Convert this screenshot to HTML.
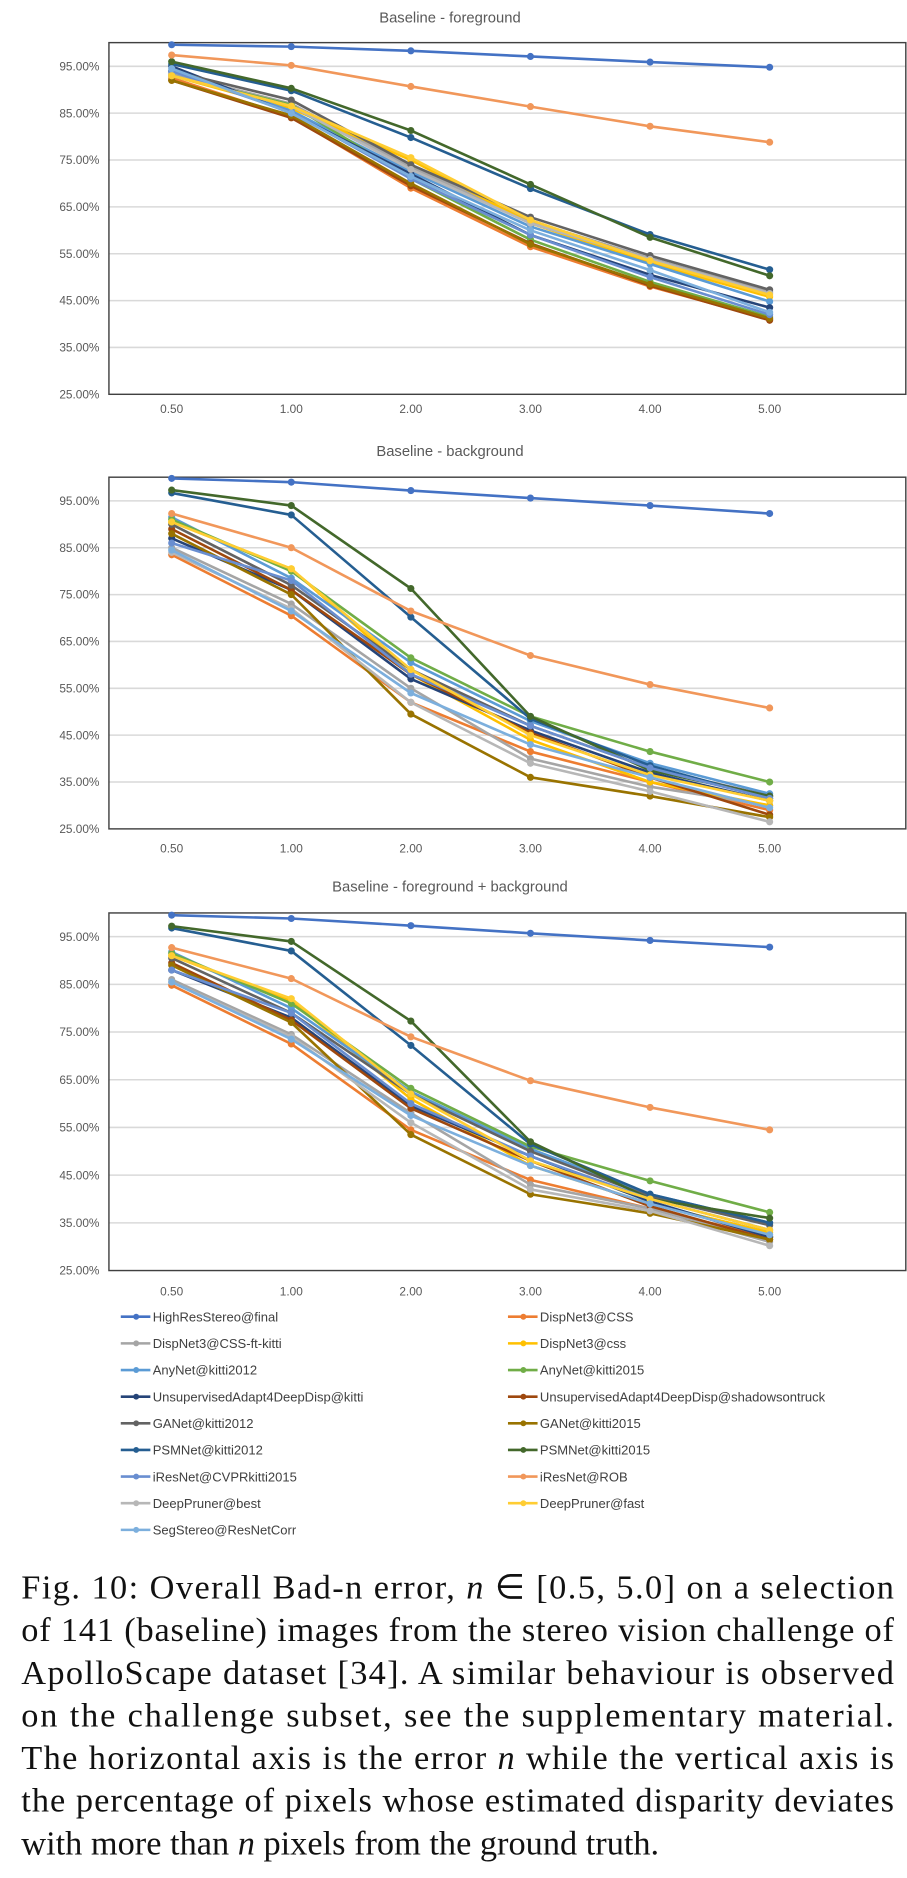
<!DOCTYPE html>
<html><head><meta charset="utf-8">
<style>
html,body{margin:0;padding:0;background:#fff;}
svg{display:block;}
.tick{font-family:"Liberation Sans",sans-serif;font-size:10px;fill:#595959;}
.ttl{font-family:"Liberation Sans",sans-serif;font-size:12.5px;fill:#595959;}
.leg{font-family:"Liberation Sans",sans-serif;font-size:11px;fill:#404040;}
.cap{font-family:"Liberation Serif",serif;font-size:29px;fill:#111;}
</style></head>
<body>
<svg id="fig" width="907" height="1878" viewBox="0 0 766 1586" preserveAspectRatio="none" xmlns="http://www.w3.org/2000/svg">
<g id="charts"></g>
<g id="legend"></g>
<g>
<text class="cap" x="18" y="1350" textLength="737" lengthAdjust="spacing">Fig. 10:  Overall Bad-n error, <tspan font-style="italic">n</tspan> ∈ [0.5, 5.0] on a selection</text>
<text class="cap" x="18" y="1386" textLength="737" lengthAdjust="spacing">of 141 (baseline) images from the stereo vision challenge of</text>
<text class="cap" x="18" y="1422" textLength="737" lengthAdjust="spacing">ApolloScape dataset [34]. A similar behaviour is observed</text>
<text class="cap" x="18" y="1458" textLength="737" lengthAdjust="spacing">on the challenge subset, see the supplementary material.</text>
<text class="cap" x="18" y="1494" textLength="737" lengthAdjust="spacing">The horizontal axis is the error <tspan font-style="italic">n</tspan> while the vertical axis is</text>
<text class="cap" x="18" y="1530" textLength="737" lengthAdjust="spacing">the percentage of pixels whose estimated disparity deviates</text>
<text class="cap" x="18" y="1566">with more than <tspan font-style="italic">n</tspan> pixels from the ground truth.</text>
</g>
</svg>
<script>
const categories = ["0.50","1.00","2.00","3.00","4.00","5.00"];
const yTicks = [25,35,45,55,65,75,85,95];
const seriesNames = ["HighResStereo@final","DispNet3@CSS","DispNet3@CSS-ft-kitti","DispNet3@css","AnyNet@kitti2012","AnyNet@kitti2015","UnsupervisedAdapt4DeepDisp@kitti","UnsupervisedAdapt4DeepDisp@shadowsontruck","GANet@kitti2012","GANet@kitti2015","PSMNet@kitti2012","PSMNet@kitti2015","iResNet@CVPRkitti2015","iResNet@ROB","DeepPruner@best","DeepPruner@fast","SegStereo@ResNetCorr"];
const seriesColors = ["#4472C4","#ED7D31","#A5A5A5","#FFC000","#5B9BD5","#70AD47","#264478","#9E480E","#636363","#997300","#255E91","#43682B","#698ED0","#F1975A","#B7B7B7","#FFCD33","#7CAFDD"];
const chartTitles = ["Baseline - foreground","Baseline - background","Baseline - foreground + background"];
// values per series, order as seriesNames
const fgValues = [
[99.6,99.2,98.3,97.1,95.9,94.8],[92.5,84.2,69,56.5,48,41],[93.5,87,73.5,62,54,46.8],[93,86,75,61.5,53,45.8],
[94,85.5,72.5,60.8,52.8,44.8],[93,86.8,71,58,49,41.5],[95,85,72,59,50.5,43.5],[92,84,69.5,57.2,48.2,40.8],
[94,87.8,74,62.8,54.6,47.3],[92,84.5,70,57,48.5,41.2],[95.5,89.8,79.8,68.9,59.1,51.6],[96,90.3,81.3,69.8,58.5,50.3],
[94,85.2,71,59,50,42],[97.4,95.2,90.7,86.4,82.2,78.8],[93,86.5,73,61.5,53.8,46.5],[93,86.5,75.5,62.2,53.5,46.2],[94.5,85,71.5,60,51.5,42.5]];
const bgValues = [
[99.8,99,97.2,95.6,94,92.3],[83.5,70.5,52,41.5,35,29],[85,73,55,40,34,30],[90.5,80.5,58,44,35,30],
[91.5,78.5,60.5,48,39,32.5],[91,80,61.5,49,41.5,35],[87,76,57,46,37,31],[89,76,58,45.5,36,28],
[90,77,59,47,38,32],[88,75,49.5,36,32,27.5],[96.7,92,70.2,48.5,38.5,31.5],[97.3,94,76.3,49,37.5,32],
[86,78,58,47,38,31.5],[92.3,85,71.5,62,55.8,50.8],[84,72,52,39,33,26.5],[90.5,80.5,59,45,36.5,31],[84.5,71.5,54,43,36,29.5]];
const allValues = [
[99.5,98.8,97.3,95.7,94.2,92.8],[84.8,72.5,54.5,44,38,32],[86,74.5,58,43,38,31],[91,81.5,61,47,39,33],
[91.8,80,62.5,50.5,41,35],[91.5,81,63.2,51,43.8,37.2],[88,78,59.5,49,39.5,32],[89.5,77.5,59,48,38.5,31.5],
[90.5,79,62,50,40.5,34.5],[89,77,53.5,41,37,31.5],[96.8,92,72.2,51.5,41,35],[97.2,94,77.3,52,40,36],
[88,79,60,49,40,33.5],[92.7,86.2,74,64.8,59.2,54.5],[85.5,74,56,42,37.5,30.2],[91,82,62,48,40,33.5],[85.5,73.5,57.5,47,39,32.5]];

const NS="http://www.w3.org/2000/svg";
function mk(tag,attrs,parent){const e=document.createElementNS(NS,tag);for(const k in attrs)e.setAttribute(k,attrs[k]);parent.appendChild(e);return e;}
const layouts=[{titleY:19,top:36,y95:56,y25:333,xl:349},{titleY:385,top:403,y95:423,y25:700,xl:720},{titleY:753,top:771,y95:791,y25:1073,xl:1094}];
const datasets=[fgValues,bgValues,allValues];
const BL=92,BR=765;
const xScale=i=>145+i*101;
const charts=document.getElementById('charts');
layouts.forEach((L,ci)=>{
  const g=mk('g',{},charts);
  
  
  const yScale=v=>L.y25-(v-25)*(L.y25-L.y95)/70;
  const t=mk('text',{class:'ttl',x:380,y:L.titleY,'text-anchor':'middle'},g);t.textContent=chartTitles[ci];
  
  
  yTicks.forEach(v=>{
    if(v>25){const gl=mk('line',{x1:BL,x2:BR,y1:yScale(v),y2:yScale(v),stroke:'#d9d9d9','stroke-width':1.3},g);
    
    }
    const tl=mk('text',{class:'tick',x:84,y:yScale(v)+3.5,'text-anchor':'end'},g);tl.textContent=v.toFixed(2)+'%';
    
    
  });
  const box=mk('rect',{x:BL,y:L.top,width:BR-BL,height:L.y25-L.top,fill:'none',stroke:'#404040','stroke-width':1.2},g);
  
  
  categories.forEach((c,i)=>{const xl=mk('text',{class:'tick',x:xScale(i),y:L.xl,'text-anchor':'middle'},g);xl.textContent=c;
    
    });
  datasets[ci].forEach((vals,si)=>{
    const sg=mk('g',{},g);
    
    
    const pts=vals.map((v,i)=>xScale(i)+','+yScale(v)).join(' ');
    const pl=mk('polyline',{points:pts,fill:'none',stroke:seriesColors[si],'stroke-width':2.2,'stroke-linejoin':'round'},sg);
    
    
    vals.forEach((v,i)=>{const c=mk('circle',{cx:xScale(i),cy:yScale(v),r:3,fill:seriesColors[si]},sg);
      
      });
  });
});
const leg=document.getElementById('legend');
seriesNames.forEach((n,si)=>{
  const col=si%2,row=Math.floor(si/2);
  const x=col?455:128,y=1112+row*22.5;
  const e=mk('g',{},leg);
  
  
  mk('line',{x1:x-26,x2:x-1,y1:y,y2:y,stroke:seriesColors[si],'stroke-width':2.2},e);
  mk('circle',{cx:x-13,cy:y,r:2.5,fill:seriesColors[si]},e);
  const t=mk('text',{class:'leg',x:x+1,y:y+4},e);t.textContent=n;
});
</script>
</body></html>
